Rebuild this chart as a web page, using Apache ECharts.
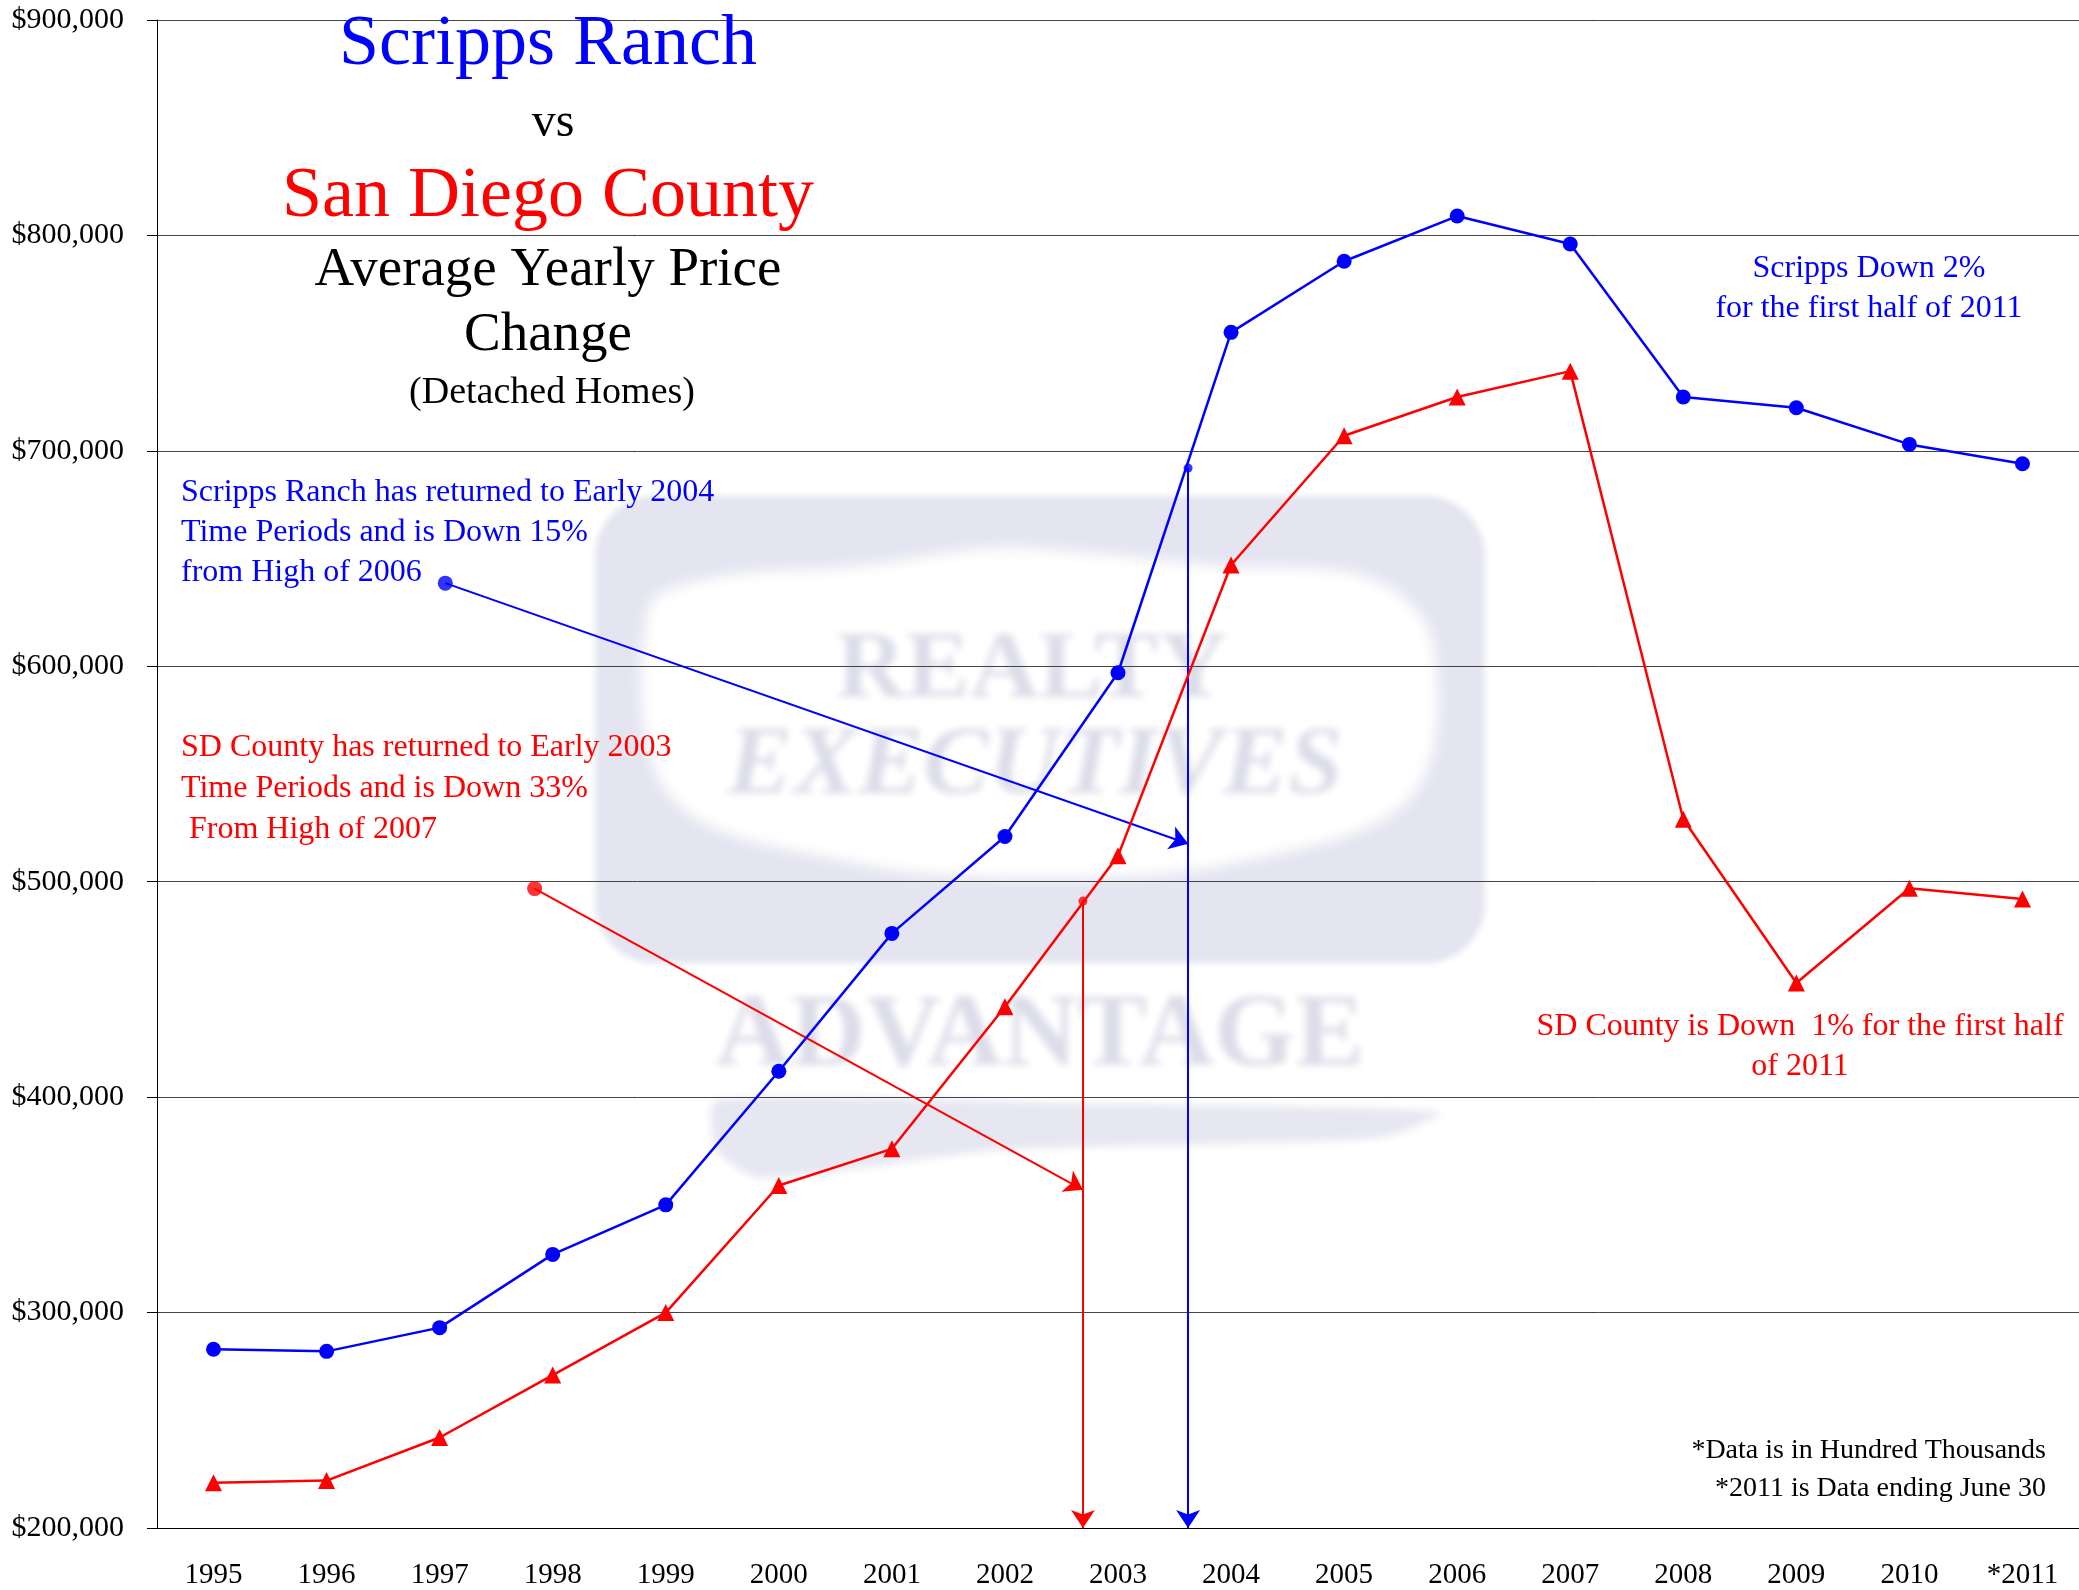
<!DOCTYPE html>
<html>
<head>
<meta charset="utf-8">
<script src="https://cdn.jsdelivr.net/npm/echarts@6/dist/echarts.min.js"></script>
<style>
html, body { margin: 0; padding: 0; background: #fff; }
#charts { width: 2079px; height: 1590px; }
</style>
</head>
<body>
<div id="charts"></div>
<script>
var years = ['1995', '1996', '1997', '1998', '1999', '2000', '2001', '2002', '2003',
  '2004', '2005', '2006', '2007', '2008', '2009', '2010', '*2011'];
var scripps = [283000, 282000, 293000, 327000, 350000, 412000, 476000, 521000, 597000,
  755000, 788000, 809000, 796000, 725000, 720000, 703000, 694000];
var sdCounty = [221000, 222000, 242000, 271000, 300000, 359000, 376000, 442000, 512000,
  647000, 707000, 725000, 737000, 529000, 453000, 497000, 492000];

// annotation arrows, x in category units (0 = left edge of axis)
var blueArrow = [[2.55, 638600], [9.12, 517600]];
var blueDrop = [[9.12, 692000], [9.12, 200000]];
var redArrow = [[3.34, 496800], [8.19, 357000]];
var redDrop = [[8.19, 491000], [8.19, 200000]];

var serif = '"Liberation Serif", "Times New Roman", serif';
var BLUE = '#0000ff', RED = '#ff0000';

var chartDom = document.getElementById('charts');
var myChart = echarts.init(chartDom);
var option;

function txt(text, x, y, size, color, align, lh) {
  return {
    type: 'text', z: 100,
    style: {
      text: text, x: x, y: y, fill: color,
      font: size + 'px ' + serif,
      align: align || 'center', verticalAlign: 'top',
      lineHeight: lh || size
    }
  };
}

// soft watermark: only the blurred shadow lands on the canvas
var OFF = 3000;
function soft(el, color, blur) {
  el.z = el.z || -8;
  el.x = OFF;
  el.style = Object.assign(el.style || {}, {
    fill: color, shadowColor: color, shadowBlur: blur, shadowOffsetX: -OFF
  });
  return el;
}
function softText(text, x, y, font, color, blur) {
  return {
    type: 'text', z: -8, x: OFF,
    style: {
      text: text, x: x, y: y, font: font, fill: color,
      align: 'center', verticalAlign: 'middle',
      textShadowColor: color, textShadowBlur: blur, textShadowOffsetX: -OFF,
      shadowColor: color, shadowBlur: blur, shadowOffsetX: -OFF
    }
  };
}
var wm = '#dcdde9';

option = {
  animation: false,
  grid: { left: 157, top: 20, right: 0, bottom: 61 },
  xAxis: [
    {
      type: 'category',
      data: years,
      boundaryGap: true,
      axisLine: { lineStyle: { color: '#000', width: 1 } },
      axisTick: { length: 9, lineStyle: { color: '#000' } },
      axisLabel: { color: '#000', fontSize: 29, fontFamily: serif, margin: 33 },
      splitLine: { show: false }
    },
    { type: 'value', min: 0, max: 17, show: false }
  ],
  yAxis: {
    type: 'value',
    min: 200000, max: 900000, interval: 100000,
    axisLine: { show: true, lineStyle: { color: '#000', width: 1 } },
    axisTick: { show: true, length: 10, lineStyle: { color: '#000' } },
    axisLabel: {
      color: '#000', fontSize: 30, fontFamily: serif, margin: 33,
      formatter: function (v) { return '$' + v.toLocaleString('en-US'); }
    },
    splitLine: { lineStyle: { color: '#444', width: 1 } }
  },
  graphic: [
    soft({ type: 'rect', z: -10, shape: { x: 595, y: 496, width: 890, height: 467, r: 60 } },
      '#e4e5f0', 6),
    soft({ type: 'polygon', z: -9, shape: { smooth: 0.35, points: [
        [648, 610], [713, 578], [860, 566], [990, 548], [1080, 552], [1220, 566], [1370, 578],
        [1432, 640], [1412, 796], [1240, 862], [1045, 878], [850, 862], [670, 796]] } },
      '#ffffff', 14),
    softText('REALTY', 1032, 672, 'bold 96px ' + serif, wm, 7),
    softText('EXECUTIVES', 1035, 768, 'bold italic 98px ' + serif, wm, 7),
    softText('ADVANTAGE', 1040, 1038, 'bold 104px ' + serif, wm, 7),
    soft({ type: 'polygon', shape: { smooth: 0.2, points: [
        [716, 1100], [1100, 1104], [1440, 1112], [1380, 1138], [1000, 1150], [760, 1178], [716, 1150]] } },
      '#e6e7f1', 8),

    txt('Scripps Ranch', 548, 9, 72, BLUE),
    txt('vs', 553, 99, 48, '#000'),
    txt('San Diego County', 548, 161, 72, RED),
    txt('Average Yearly Price\nChange', 548, 238, 55, '#000', 'center', 65),
    txt('(Detached Homes)', 552, 374, 38, '#000'),

    txt('Scripps Ranch has returned to Early 2004\nTime Periods and is Down 15%\nfrom High of 2006',
      181, 473, 32, BLUE, 'left', 40),
    txt('SD County has returned to Early 2003\nTime Periods and is Down 33%\n From High of 2007',
      181, 727, 32, RED, 'left', 41),
    txt('Scripps Down 2%\nfor the first half of 2011', 1869, 249, 32, BLUE, 'center', 40),
    txt('SD County is Down  1% for the first half\nof 2011', 1800, 1007, 32, RED, 'center', 40),
    txt('*Data is in Hundred Thousands\n*2011 is Data ending June 30', 2046, 1432, 28, '#000', 'right', 38)
  ],
  series: [
    {
      name: 'Scripps Ranch',
      type: 'line',
      data: scripps,
      symbol: 'circle', symbolSize: 15,
      itemStyle: { color: BLUE },
      lineStyle: { color: BLUE, width: 2.5 },
      z: 5
    },
    {
      name: 'San Diego County',
      type: 'line',
      data: sdCounty,
      symbol: 'triangle', symbolSize: 17,
      itemStyle: { color: RED },
      lineStyle: { color: RED, width: 2.5 },
      z: 5
    },
    {
      type: 'lines',
      coordinateSystem: 'cartesian2d',
      xAxisIndex: 1, yAxisIndex: 0,
      symbol: ['none', 'arrow'], symbolSize: 18,
      lineStyle: { width: 2, opacity: 1, curveness: 0 },
      data: [
        { coords: blueArrow, lineStyle: { color: BLUE } },
        { coords: blueDrop, lineStyle: { color: BLUE } },
        { coords: redArrow, lineStyle: { color: RED } },
        { coords: redDrop, lineStyle: { color: RED } }
      ],
      z: 4
    },
    {
      type: 'scatter',
      xAxisIndex: 1, yAxisIndex: 0,
      data: [
        { value: blueArrow[0], symbolSize: 15, itemStyle: { color: BLUE } },
        { value: blueDrop[0], symbolSize: 9, itemStyle: { color: BLUE } },
        { value: redArrow[0], symbolSize: 15, itemStyle: { color: RED } },
        { value: redDrop[0], symbolSize: 9, itemStyle: { color: RED } }
      ],
      z: 6
    }
  ]
};

option && myChart.setOption(option);
</script>
</body>
</html>
